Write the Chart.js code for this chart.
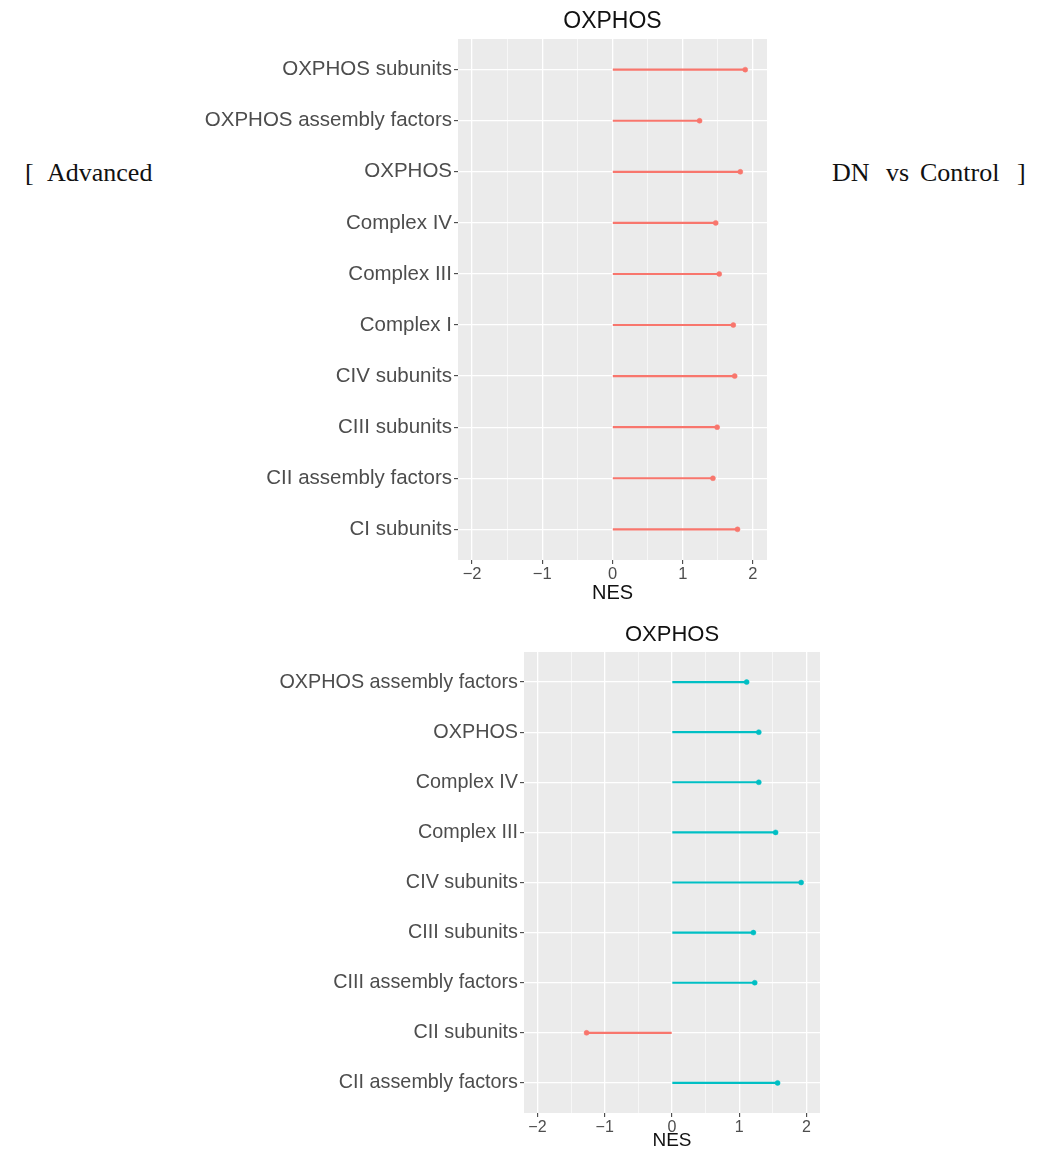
<!DOCTYPE html>
<html><head><meta charset="utf-8">
<script src="https://cdn.jsdelivr.net/npm/chart.js@4"></script>
<style>
html,body{margin:0;padding:0;background:#fff;width:1042px;height:1161px;overflow:hidden;position:relative}
.side{position:absolute;top:160px;font-family:"Liberation Serif","Times New Roman",serif;font-size:26px;line-height:26px;color:#111;white-space:nowrap}
#w1{position:absolute;left:0;top:0;width:800px;height:610px}
#w2{position:absolute;left:0;top:615px;width:860px;height:546px}
</style></head><body>
<span class="side" style="left:25px">[</span>
<span class="side" style="left:47px">Advanced</span>
<span class="side" style="left:832px">DN</span>
<span class="side" style="left:886px">vs</span>
<span class="side" style="left:920px">Control</span>
<span class="side" style="left:1017px">]</span>
<div id="w1"><canvas id="c1" width="800" height="610"></canvas></div>
<div id="w2"><canvas id="c2" width="860" height="546"></canvas></div>
<script>
const chartTitle = "OXPHOS";
const axisTitle = "NES";
const xTickValues = [-2, -1, 0, 1, 2];

const topCategories = ["OXPHOS subunits","OXPHOS assembly factors","OXPHOS","Complex IV","Complex III","Complex I","CIV subunits","CIII subunits","CII assembly factors","CI subunits"];
const topNES = [1.89, 1.24, 1.82, 1.47, 1.52, 1.72, 1.74, 1.49, 1.43, 1.78];

const bottomCategories = ["OXPHOS assembly factors","OXPHOS","Complex IV","Complex III","CIV subunits","CIII subunits","CIII assembly factors","CII subunits","CII assembly factors"];
const bottomNES = [1.11, 1.29, 1.29, 1.54, 1.92, 1.21, 1.23, -1.27, 1.57];

const RED = '#F8766D', TEAL = '#00BFC4';
const FONT = '"Liberation Sans", Arial, sans-serif';

const panelBg = {
  id: 'panelBg',
  beforeDraw(chart) {
    const a = chart.chartArea, c = chart.ctx;
    c.save(); c.fillStyle = '#EBEBEB';
    c.fillRect(a.left, a.top, a.right - a.left, a.bottom - a.top);
    c.restore();
  }
};

function fmt(v) { return v < 0 ? '\u2212' + Math.abs(v) : String(v); }

function makeChart(id, cats, vals, colors, d) {
  const n = cats.length;
  const pts = vals.map((v, i) => ({ x: v, y: i + 1 }));
  const minor = [];
  for (let i = 0; i < xTickValues.length - 1; i++) minor.push((xTickValues[i] + xTickValues[i + 1]) / 2);
  const xTicks = xTickValues.concat(minor).sort((a, b) => a - b);
  const isMajor = v => xTickValues.indexOf(v) >= 0;
  return new Chart(document.getElementById(id), {
    type: 'bar',
    data: {
      datasets: [
        { type: 'scatter', data: pts, pointRadius: d.pr, pointBackgroundColor: colors, pointBorderColor: colors, pointBorderWidth: 0.5, order: 0 },
        { type: 'bar', data: pts, backgroundColor: colors, borderWidth: 0, barThickness: d.bt, order: 1 }
      ]
    },
    options: {
      indexAxis: 'y', responsive: false, animation: false,
      layout: { padding: { left: 0, right: d.padR, top: 0, bottom: 0 } },
      plugins: {
        legend: { display: false }, tooltip: { enabled: false },
        title: { display: true, fullSize: false, text: chartTitle, color: '#111',
          font: { family: FONT, size: d.titleSize, weight: 'normal', lineHeight: 1.2 },
          padding: { top: d.tpT, bottom: d.tpB } }
      },
      scales: {
        x: {
          type: 'linear', min: -2.2, max: 2.2, position: 'bottom', offset: false,
          afterBuildTicks: s => { s.ticks = xTicks.map(v => ({ value: v })); },
          afterFit: s => { s.height = d.xH; },
          ticks: { autoSkip: false, maxRotation: 0, padding: 1, color: '#4D4D4D',
            font: { family: FONT, size: d.xTickSize },
            callback: v => isMajor(v) ? fmt(v) : '' },
          grid: { offset: false, color: '#FFFFFF', lineWidth: c => isMajor(c.tick.value) ? 1.3 : 0.6,
            tickLength: 4, tickWidth: 1, tickColor: c => isMajor(c.tick.value) ? '#333' : 'rgba(0,0,0,0)' },
          border: { display: false },
          title: { display: true, text: axisTitle, color: '#111',
            font: { family: FONT, size: d.nesSize, lineHeight: 1.2 },
            padding: { top: 0, bottom: d.nesPadB } }
        },
        y: {
          type: 'linear', min: 0.4, max: n + 0.6, reverse: true, offset: false,
          afterBuildTicks: s => { s.ticks = cats.map((c, i) => ({ value: i + 1 })); },
          afterFit: s => { s.width = d.yW; },
          ticks: { autoSkip: false, padding: 2, color: '#4D4D4D',
            font: { family: FONT, size: d.yTickSize },
            callback: v => cats[Math.round(v) - 1] },
          grid: { offset: false, color: '#FFFFFF', lineWidth: 1.3, tickLength: 4, tickWidth: 1, tickColor: '#333' },
          border: { display: false }
        }
      }
    },
    plugins: [panelBg]
  });
}

makeChart('c1', topCategories, topNES, topNES.map(() => RED), {
  pr: 2.5, bt: 1.5, padR: 33, titleSize: 23, tpT: 8, tpB: 3.4,
  xH: 50, xTickSize: 16.5, nesSize: 20, nesPadB: 5, yW: 458, yTickSize: 20.5
});
makeChart('c2', bottomCategories, bottomNES, bottomNES.map(v => v < 0 ? RED : TEAL), {
  pr: 2.5, bt: 1.5, padR: 40, titleSize: 22, tpT: 7, tpB: 3.6,
  xH: 48, xTickSize: 16, nesSize: 19, nesPadB: 8.6, yW: 524, yTickSize: 19.8
});
</script>
</body></html>
